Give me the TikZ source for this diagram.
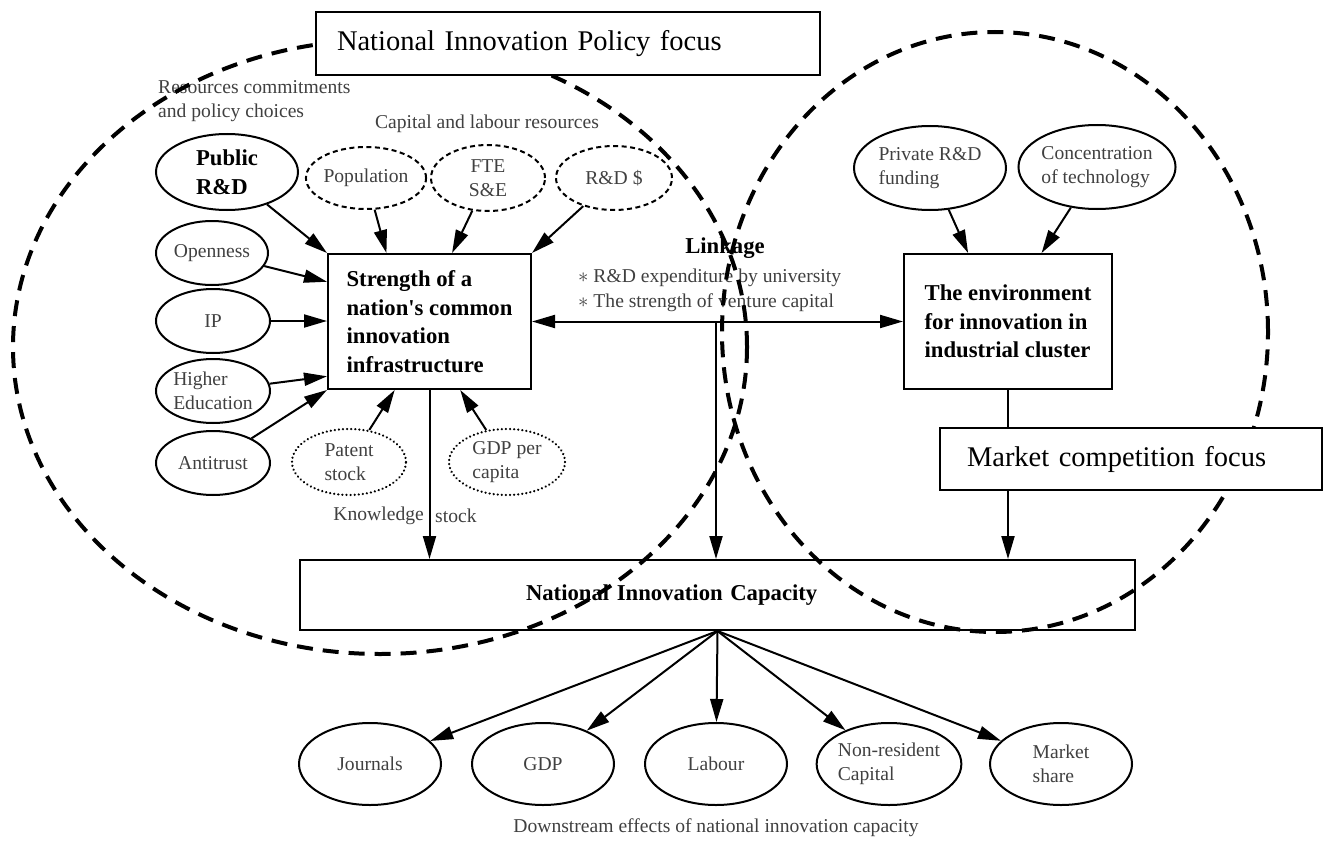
\documentclass[tikz,border=0pt]{standalone}
\usepackage{fontspec}
\setmainfont{Liberation Serif}
\usetikzlibrary{shapes.geometric,arrows.meta,calc}
\definecolor{txt}{gray}{0.25}
\newcommand\txtS{\fontsize{19.6}{24}\selectfont}
\newcommand\txtB{\fontsize{22.7}{28.5}\selectfont\bfseries}
\newcommand\txtL{\fontsize{28.5}{34}\selectfont}
\begin{document}
\begin{tikzpicture}[x=1pt,y=-1pt,
  ell/.style={ellipse, draw, line width=2pt, inner sep=0pt, minimum width=114pt,
    minimum height=64pt, align=left, font=\txtS, text=txt},
  dashell/.style={ell, dash pattern=on 5pt off 3.5pt},
  dotell/.style={ell, line cap=round, dash pattern=on 0.1pt off 4pt, line width=2.4pt},
  outell/.style={ell, minimum width=142pt, minimum height=82pt},
  box/.style={draw, line width=2pt, inner sep=0pt, align=left, font=\txtB},
  focus/.style={draw, fill=white, line width=1.5pt, font=\txtL, align=left, inner ysep=0pt},
  arr/.style={-{Triangle[length=23pt,width=13pt]}, line width=2pt},
  darr/.style={{Triangle[length=23pt,width=13pt]}-{Triangle[length=23pt,width=13pt]}, line width=2pt},
  zone/.style={draw, line width=4pt, dash pattern=on 16pt off 10pt},
  lbl/.style={font=\txtS, text=txt, inner sep=0pt}]
\useasboundingbox (0,0) rectangle (1324,840);

% common innovation infrastructure and its inputs
\node[box, minimum width=203pt, minimum height=135pt] (str) at (429.5,321.5)
  {Strength of a\\nation\textquotesingle s common\\innovation\\infrastructure};
\node[ell, minimum width=142pt, minimum height=76pt, font=\txtB, text=black] (pub) at (227,172) {Public\\R\&D};
\node[ell, minimum width=112pt] (open) at (212,253) {Openness};
\node[ell] (ip) at (213,321) {IP};
\node[ell] (hed) at (213,391) {Higher\\Education};
\node[ell] (anti) at (213,463) {Antitrust};
\node[dashell, minimum width=116pt, minimum height=62pt] (pop) at (366,178) {Population};
\node[dashell, minimum height=66pt, align=center] (fte) at (488,178) {FTE\\S\&E};
\node[dashell, minimum width=116pt] (rdd) at (614,178) {R\&D \$};
\node[dotell, minimum height=66pt] (pat) at (349,462) {Patent\\stock};
\node[dotell, minimum width=116pt, minimum height=66pt] (gpc) at (507,462) {GDP per\\capita};

\node[lbl, align=left, anchor=west] (res) at (158,101) {Resources commitments\\and policy choices};
\node[lbl] (cap) at (487,124) {Capital and labour resources};

% industrial cluster
\node[box, minimum width=208pt, minimum height=135pt] (env) at (1008,321.5)
  {The environment\\for innovation in\\industrial cluster};
\node[ell, minimum width=152pt, minimum height=84pt] (priv) at (930,168) {Private R\&D\\funding};
\node[ell, minimum width=154pt, minimum height=84pt] (conc) at (1097,167) {Concentration\\of technology};

% national innovation capacity
\node[box, text width=383pt, inner xsep=226pt, minimum height=70pt] (nic) at (717.5,595) {National Innovation Capacity};

% linkage
\node[font=\txtB, inner sep=0pt] (lk) at (725,248) {Linkage};
\node[lbl, align=left, anchor=west] (lkb) at (578,290)
  {$\ast$ R\&D expenditure by university\\[1pt]$\ast$ The strength of venture capital};
\coordinate (lj) at (716,321.5);

% downstream effects
\node[outell] (jour) at (370,764) {Journals};
\node[outell] (gdp) at (543,764) {GDP};
\node[outell] (lab) at (716,764) {Labour};
\node[outell] (nres) at (889,764) {Non-resident\\Capital};
\node[outell] (mkt) at (1061,764) {Market\\share};
\node[lbl] (down) at (716,828) {Downstream effects of national innovation capacity};

% connectors
\draw[arr] (pub) -- (str.north west);
\draw[arr] (open) -- ($(str.north west)!0.21!(str.south west)$);
\draw[arr] (ip) -- (ip -| str.west);
\draw[arr] (hed) -- ($(str.north west)!0.9!(str.south west)$);
\draw[arr] (anti) -- (str.south west);
\draw[arr] (pop) -- ($(str.north west)!0.29!(str.north east)$);
\draw[arr] (fte) -- ($(str.north west)!0.61!(str.north east)$);
\draw[arr] (rdd) -- (str.north east);
\draw[arr] (pat) -- ($(str.south west)!0.33!(str.south east)$);
\draw[arr] (gpc) -- ($(str.south west)!0.65!(str.south east)$);
\draw[arr] (str) -- (str |- nic.north);
\node[lbl, anchor=east] (kn1) at (424,516) {Knowledge};
\node[lbl, anchor=west] (kn2) at (435,516) {stock};
\draw[arr] (priv) -- ($(env.north west)!0.31!(env.north east)$);
\draw[arr] (conc) -- ($(env.north west)!0.66!(env.north east)$);
\draw[arr] (env) -- (env |- nic.north);
\draw[darr] (str) -- (env);
\draw[arr] (lj) -- (lj |- nic.north);
\foreach \t in {jour,gdp,lab,nres,mkt} \draw[arr] (nic.south) -- (\t);

% policy zones
\draw[zone] (380,347) ellipse [x radius=367pt, y radius=307pt];
\draw[zone] (995,332) ellipse [x radius=273pt, y radius=300pt];
\node[focus, text width=462pt, inner xsep=21pt, minimum height=63pt] (npf) at (568,43.5) {National Innovation Policy focus};
\node[focus, text width=328pt, inner xsep=27pt, minimum height=62pt] (mcf) at (1131,459) {Market competition focus};
\end{tikzpicture}
\end{document}
